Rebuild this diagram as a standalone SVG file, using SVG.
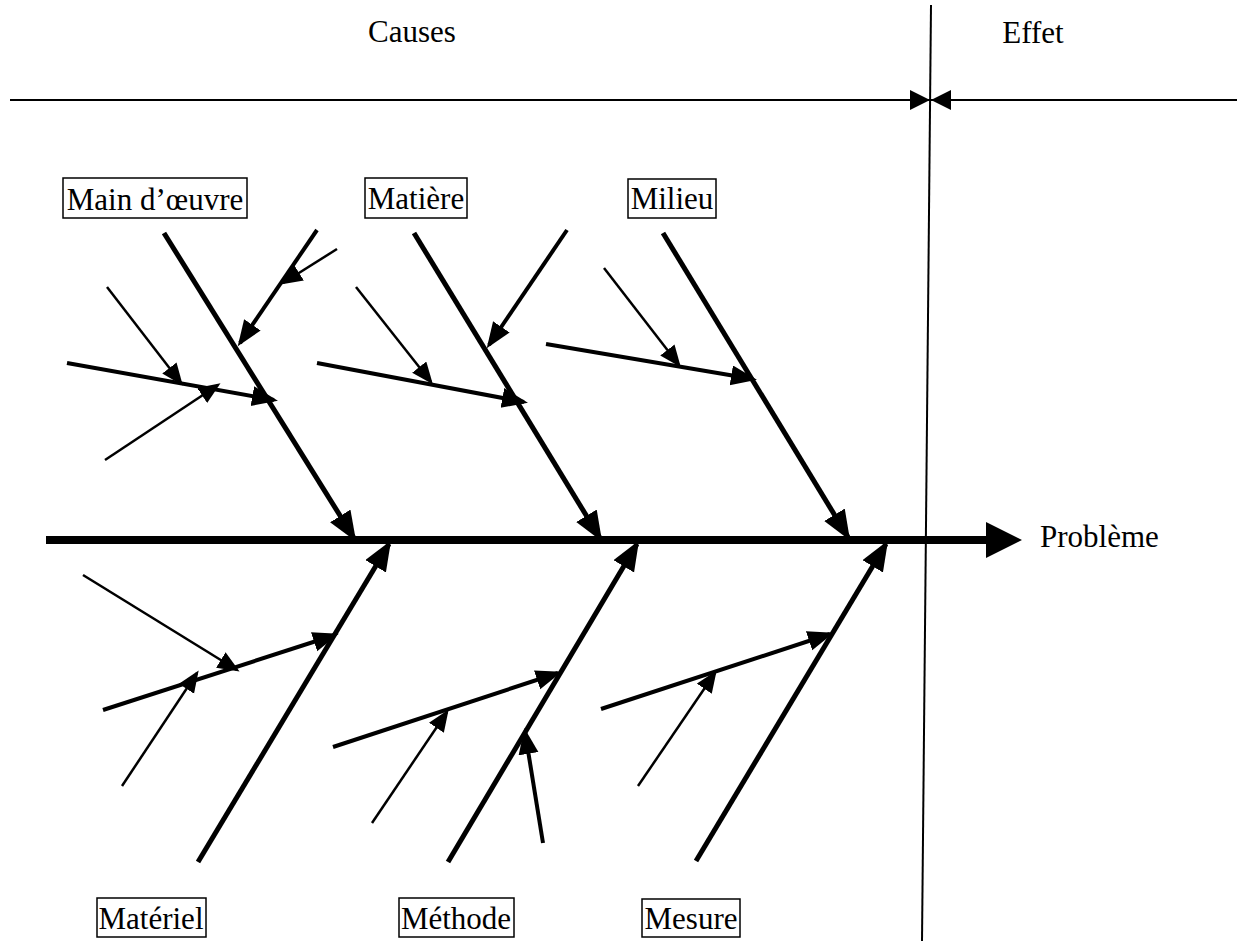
<svg xmlns="http://www.w3.org/2000/svg" width="1243" height="941" viewBox="0 0 1243 941">
<style>
  text { font-family: "Liberation Serif", "Times New Roman", serif; font-size: 31px; fill: #000; }
  .box { fill: #fff; stroke: #000; stroke-width: 1.5; }
  .frame { stroke: #000; stroke-width: 2; fill: none; }
  .spine { stroke: #000; stroke-width: 8; fill: none; }
  .bone { stroke: #000; stroke-width: 5; fill: none; marker-end: url(#aBig); }
  .branch { stroke: #000; stroke-width: 4; fill: none; marker-end: url(#aMid); }
  .twig { stroke: #000; stroke-width: 2.5; fill: none; marker-end: url(#aSmall); }
</style>
<defs>
  <marker id="aBig" markerUnits="userSpaceOnUse" markerWidth="32" markerHeight="26" refX="26" refY="12" orient="auto">
    <path d="M0,0 L30,12 L0,24 z" fill="#000"/>
  </marker>
  <marker id="aMid" markerUnits="userSpaceOnUse" markerWidth="28" markerHeight="22" refX="22" refY="10" orient="auto">
    <path d="M0,0 L26,10 L0,20 z" fill="#000"/>
  </marker>
  <marker id="aSmall" markerUnits="userSpaceOnUse" markerWidth="24" markerHeight="20" refX="19" refY="9" orient="auto">
    <path d="M0,0 L22,9 L0,18 z" fill="#000"/>
  </marker>
  <marker id="aSpine" markerUnits="userSpaceOnUse" markerWidth="38" markerHeight="38" refX="2" refY="18" orient="auto">
    <path d="M0,0 L36,18 L0,36 z" fill="#000"/>
  </marker>
  <marker id="aHead" markerUnits="userSpaceOnUse" markerWidth="22" markerHeight="22" refX="20" refY="10" orient="auto">
    <path d="M0,0 L20,10 L0,20 z" fill="#000"/>
  </marker>
</defs>
<rect width="1243" height="941" fill="#fff"/>

<g id="header">
  <line class="frame" x1="931" y1="5" x2="922" y2="941"/>
  <line class="frame" x1="10" y1="100" x2="930" y2="100" marker-end="url(#aHead)"/>
  <line class="frame" x1="1237" y1="100" x2="931" y2="100" marker-end="url(#aHead)"/>
  <text x="412" y="42" text-anchor="middle">Causes</text>
  <text x="1033" y="43" text-anchor="middle">Effet</text>
</g>

<g id="connectors">
  <line class="spine" x1="46" y1="540" x2="988" y2="540" marker-end="url(#aSpine)"/>
  <!-- top main bones -->
  <line class="bone" x1="164" y1="233" x2="354" y2="538"/>
  <line class="bone" x1="414" y1="233" x2="600" y2="538"/>
  <line class="bone" x1="663" y1="233" x2="848" y2="537"/>
  <!-- bottom main bones -->
  <line class="bone" x1="198" y1="862" x2="389" y2="544"/>
  <line class="bone" x1="448" y1="862" x2="637" y2="544"/>
  <line class="bone" x1="696" y1="861" x2="886" y2="544"/>
  <!-- Main d'oeuvre branches -->
  <line class="branch" x1="67" y1="363" x2="274" y2="400"/>
  <line class="twig" x1="107" y1="287" x2="181" y2="383"/>
  <line class="twig" x1="105" y1="460" x2="218" y2="385"/>
  <line class="branch" x1="317" y1="230" x2="240" y2="343"/>
  <line class="twig" x1="337" y1="249" x2="283" y2="283"/>
  <!-- Matiere branches -->
  <line class="branch" x1="317" y1="363" x2="524" y2="402"/>
  <line class="twig" x1="356" y1="287" x2="431" y2="382"/>
  <line class="branch" x1="567" y1="230" x2="489" y2="345"/>
  <!-- Milieu branches -->
  <line class="branch" x1="546" y1="344" x2="753" y2="379"/>
  <line class="twig" x1="604" y1="268" x2="679" y2="365"/>
  <!-- Materiel branches -->
  <line class="branch" x1="103" y1="710" x2="335" y2="635"/>
  <line class="twig" x1="83" y1="575" x2="237" y2="670"/>
  <line class="twig" x1="122" y1="786" x2="197" y2="673"/>
  <!-- Methode branches -->
  <line class="branch" x1="333" y1="747" x2="558" y2="673"/>
  <line class="twig" x1="372" y1="823" x2="447" y2="712"/>
  <line class="branch" x1="543" y1="843" x2="525" y2="732"/>
  <!-- Mesure branches -->
  <line class="branch" x1="601" y1="709" x2="830" y2="634"/>
  <line class="twig" x1="638" y1="786" x2="715" y2="673"/>
</g>

<g id="node-main-oeuvre">
  <rect class="box" x="63" y="178" width="184" height="40"/>
  <text x="155" y="210" text-anchor="middle">Main d’œuvre</text>
</g>
<g id="node-matiere">
  <rect class="box" x="365" y="178" width="102" height="40"/>
  <text x="416" y="209" text-anchor="middle">Matière</text>
</g>
<g id="node-milieu">
  <rect class="box" x="628" y="179" width="88" height="39"/>
  <text x="672" y="209" text-anchor="middle">Milieu</text>
</g>
<g id="node-materiel">
  <rect class="box" x="97" y="898" width="109" height="39"/>
  <text x="151" y="929" text-anchor="middle">Matériel</text>
</g>
<g id="node-methode">
  <rect class="box" x="399" y="898" width="115" height="39"/>
  <text x="456" y="929" text-anchor="middle">Méthode</text>
</g>
<g id="node-mesure">
  <rect class="box" x="642" y="899" width="98" height="38"/>
  <text x="691" y="929" text-anchor="middle">Mesure</text>
</g>
<g id="node-probleme">
  <text x="1040" y="547">Problème</text>
</g>
</svg>
